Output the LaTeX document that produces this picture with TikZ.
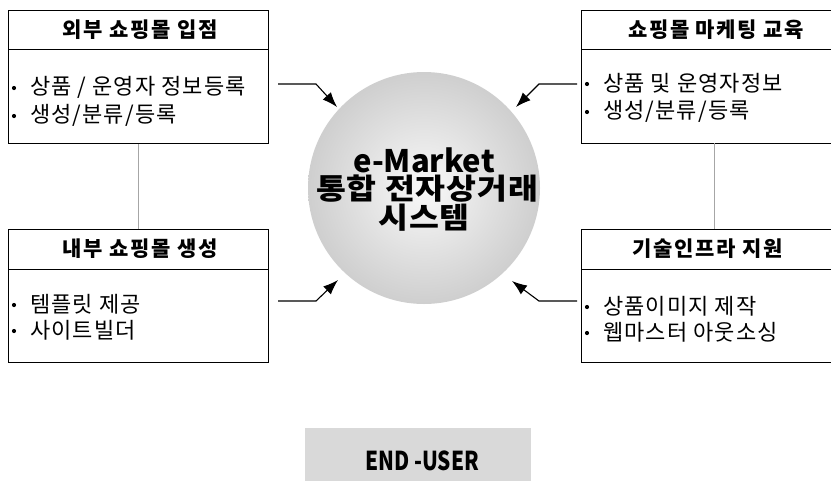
\documentclass[tikz,border=0pt]{standalone}
\usepackage{fontspec}
\usepackage{graphicx}
\setmainfont{Noto Sans CJK KR}
\newfontfamily\kr{Noto Sans CJK KR}
\newfontfamily\krb{Noto Sans CJK KR}[LetterSpace=8]
\newfontfamily\krs{Noto Sans CJK KR}[LetterSpace=5]
\newfontfamily\krbig{Noto Sans CJK KR}[LetterSpace=3,FakeStretch=1.12]
\usetikzlibrary{arrows.meta,calc}
\tikzset{
  panel/.style={draw=black, line width=0.8pt, rectangle, inner sep=0pt, anchor=north west},
  head/.style={font=\krb\bfseries\fontsize{21}{23}\selectfont, anchor=center},
  item/.style={font=\krs\fontsize{22}{24}\selectfont, anchor=west, inner sep=0pt},
  link/.style={draw=gray!70, line width=0.6pt},
  arr/.style={draw=black, line width=1.1pt, -{Latex[length=15pt,width=11pt]}},
  big/.style={font=\krbig\bfseries\fontsize{29}{30}\selectfont, align=center, inner sep=0pt},
  dotb/.style={fill=black}
}
\newcommand{\bulat}[1]{\fill[dotb] ([xshift=-16pt,yshift=-1pt]#1.west) circle (2.1pt);}
\begin{document}
\begin{tikzpicture}[x=1pt,y=-1pt]
\useasboundingbox (0,0) rectangle (831,480);
% circle
\shade[inner color=gray!5, outer color=gray!38] (424,188) circle (116);
\node[circle, minimum size=232pt, inner sep=0pt] (sys) at (424,188) {};
\node[font=\kr\bfseries\fontsize{31}{32}\selectfont, inner sep=0pt] (t1) at (424,160) {e-Market};
\node[big] (t2) at (427,189) {통합 전자상거래};
\node[big] (t3) at (424,218) {시스템};
% boxes
\node[panel, minimum width=260pt, minimum height=133pt] (tl) at (8,10) {};
\draw[line width=0.8pt] (8,49) -- (268,49);
\node[head] (tlh) at (140,30) {외부 쇼핑몰 입점};
\node[item] (tl1) at (30,87) {상품 / 운영자 정보등록};
\node[item] (tl2) at (30,115) {생성/분류/등록};

\node[panel, minimum width=260pt, minimum height=133pt] (tr) at (581,10) {};
\draw[line width=0.8pt] (581,49) -- (841,49);
\node[head] (trh) at (716,30) {쇼핑몰 마케팅 교육};
\node[item] (tr1) at (603,83) {상품 및 운영자정보};
\node[item] (tr2) at (603,111) {생성/분류/등록};

\node[panel, minimum width=260pt, minimum height=133pt] (bl) at (8,229) {};
\draw[line width=0.8pt] (8,269) -- (268,269);
\node[head] (blh) at (140,249) {내부 쇼핑몰 생성};
\node[item] (bl1) at (30,304) {템플릿 제공};
\node[item] (bl2) at (30,330) {사이트빌더};

\node[panel, minimum width=260pt, minimum height=133pt] (br) at (581,229) {};
\draw[line width=0.8pt] (581,269) -- (841,269);
\node[head] (brh) at (708,249) {기술인프라 지원};
\node[item] (br1) at (603,306) {상품이미지 제작};
\node[item] (br2) at (603,332) {웹마스터 아웃소싱};

\bulat{tl1}\bulat{tl2}\bulat{tr1}\bulat{tr2}
\bulat{bl1}\bulat{bl2}\bulat{br1}\bulat{br2}

% links
\draw[link] (tl.south) -- (bl.north);
\draw[link] (714,143) -- (714,229);
% arrows
\coordinate (a1) at (278,84); \coordinate (a1b) at (316,84); \coordinate (a1c) at (337,107);
\draw[arr] (a1) -- (a1b) -- (a1c);
\coordinate (a2) at (577,84); \coordinate (a2b) at (539,84); \coordinate (a2c) at (516,107);
\draw[arr] (a2) -- (a2b) -- (a2c);
\coordinate (a3) at (278,301); \coordinate (a3b) at (316,301); \coordinate (a3c) at (338,280);
\draw[arr] (a3) -- (a3b) -- (a3c);
\coordinate (a4) at (577,301); \coordinate (a4b) at (539,301); \coordinate (a4c) at (512,281);
\draw[arr] (a4) -- (a4b) -- (a4c);
% end user
\fill[gray!30] (305,428) rectangle (531,482);
\node[font=\kr\bfseries\fontsize{26}{28}\selectfont, inner sep=0pt] (eu) at (422,461) {\scalebox{0.8}[1]{END -USER}};
\end{tikzpicture}
\end{document}
